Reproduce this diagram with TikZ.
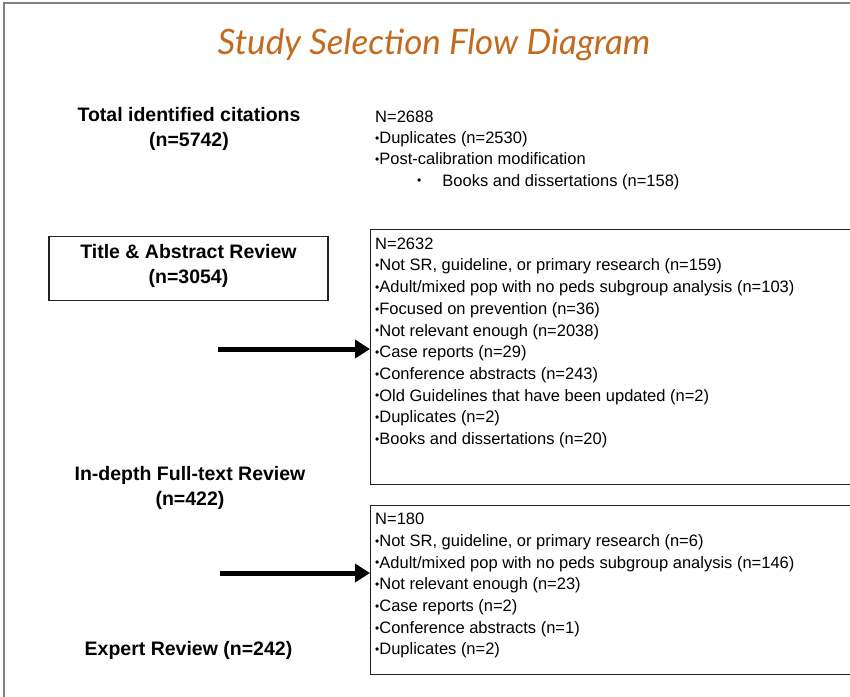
\documentclass[tikz,border=0pt]{standalone}
\usepackage{fontspec}
\setmainfont{Liberation Sans}
\newfontfamily\titlefont{Lato}
\usetikzlibrary{arrows.meta}
\definecolor{titleorange}{HTML}{C46A1F}
\definecolor{framegray}{HTML}{808080}
\definecolor{boxline}{HTML}{222222}
\newcommand{\bul}{\raisebox{1.2pt}{\fontsize{12}{12}\selectfont\textbullet}}
\tikzset{
  stagelabel/.style={align=center, inner sep=0pt, font=\fontsize{19.5}{25}\selectfont\bfseries},
  stagebox/.style={draw=boxline, line width=1.4pt, rectangle, inner sep=0pt},
  listbox/.style={draw=boxline, line width=1.4pt, rectangle, inner sep=0pt, anchor=north west},
  listtext/.style={align=left, inner sep=0pt, anchor=north west, font=\fontsize{16.5}{21.7}\selectfont},
  flowarrow/.style={line width=5pt, -{Triangle[length=15pt,width=18pt]}},
}
\begin{document}
\begin{tikzpicture}[x=1pt,y=-1pt]
\clip (0,0) rectangle (850,696);
% outer frame (left and top only visible)
\draw[framegray, line width=2pt] (4,700) -- (4,3) -- (860,3);
% title
\node[text=titleorange, font=\titlefont\itshape\fontsize{35}{35}\selectfont] (title) at (434,45) {Study Selection Flow Diagram};
% left stage labels
\node[stagelabel] (total) at (189,129) {Total identified citations\\(n=5742)};
\node[stagebox, minimum width=279pt, minimum height=64pt] (tabox) at (188.5,268.5) {};
\node[stagelabel] (ta) at (188.5,266) {Title \& Abstract Review\\(n=3054)};
\node[stagelabel] (full) at (190,487.5) {In-depth Full-text Review\\(n=422)};
\node[stagelabel] (expert) at (188.5,650) {Expert Review (n=242)};
% top exclusion list (no box)
\node[listtext, font=\fontsize{16.5}{21.1}\selectfont] (ex1) at (375,111) {N=2688\\
\bul Duplicates (n=2530)\\
\bul Post-calibration modification\\
\hspace*{42pt}\bul\hspace*{21pt}Books and dissertations (n=158)};
% second exclusion box
\node[listbox, minimum width=500pt, minimum height=255pt] (box2) at (370,229) {};
\node[listtext] (ex2) at (375,237.5) {N=2632\\
\bul Not SR, guideline, or primary research (n=159)\\
\bul Adult/mixed pop with no peds subgroup analysis (n=103)\\
\bul Focused on prevention (n=36)\\
\bul Not relevant enough (n=2038)\\
\bul Case reports (n=29)\\
\bul Conference abstracts (n=243)\\
\bul Old Guidelines that have been updated (n=2)\\
\bul Duplicates (n=2)\\
\bul Books and dissertations (n=20)};
% third exclusion box
\node[listbox, minimum width=500pt, minimum height=169pt] (box3) at (370,505) {};
\node[listtext] (ex3) at (375,513) {N=180\\
\bul Not SR, guideline, or primary research (n=6)\\
\bul Adult/mixed pop with no peds subgroup analysis (n=146)\\
\bul Not relevant enough (n=23)\\
\bul Case reports (n=2)\\
\bul Conference abstracts (n=1)\\
\bul Duplicates (n=2)};
% arrows
\coordinate (a1) at (218,349);
\coordinate (a2) at (220,573);
\draw[flowarrow] (a1) -- (a1 -| box2.west);
\draw[flowarrow] (a2) -- (a2 -| box3.west);
\end{tikzpicture}
\end{document}
